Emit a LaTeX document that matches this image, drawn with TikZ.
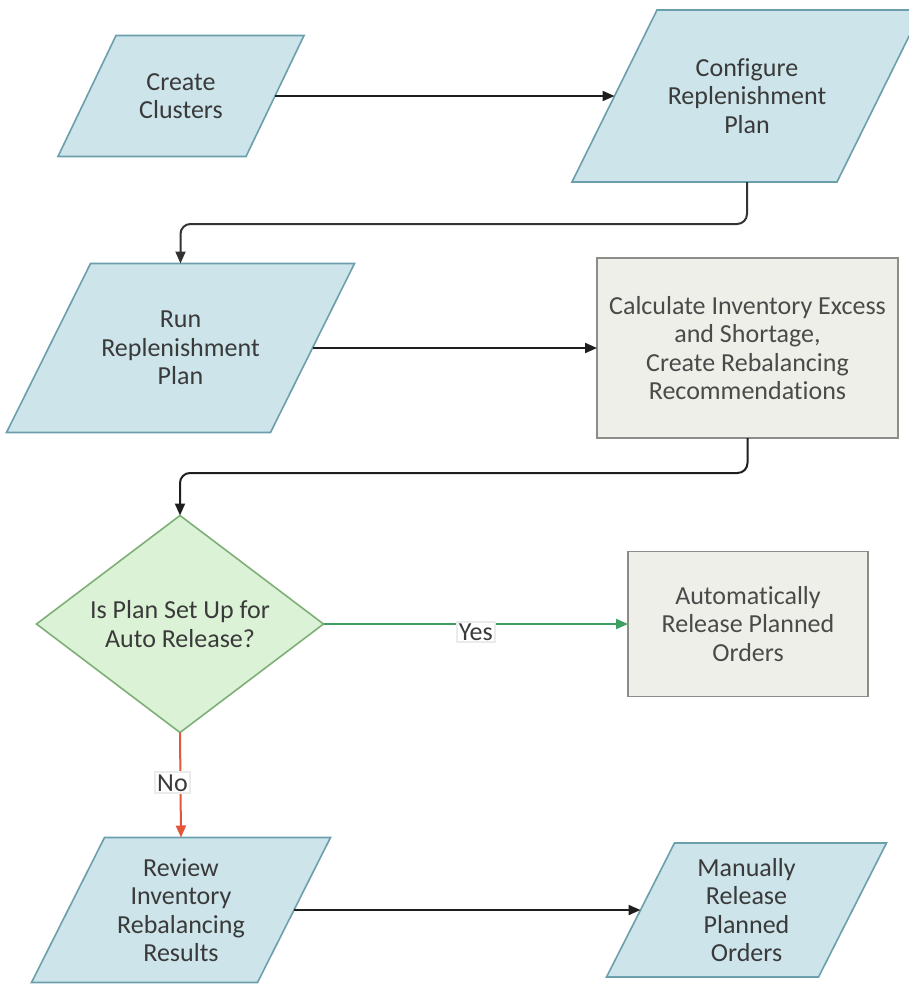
\documentclass[tikz,border=0pt]{standalone}
\usepackage{fontspec}
\setmainfont{Carlito}[Ligatures={NoCommon}]
\usetikzlibrary{arrows.meta,backgrounds,calc}
\definecolor{pfill}{HTML}{CCE4EA}
\definecolor{pdraw}{HTML}{6B9FAB}
\definecolor{rfill}{HTML}{EFEFE9}
\definecolor{rdraw}{HTML}{8C8C88}
\definecolor{dfill}{HTML}{DCF2D6}
\definecolor{ddraw}{HTML}{7EAF77}
\definecolor{agreen}{HTML}{3F9E62}
\definecolor{ared}{HTML}{E4553A}
\definecolor{ablack}{HTML}{1E1E1E}
\definecolor{textc}{HTML}{3A3A3A}
\definecolor{textb}{HTML}{4A4A4A}
\newcommand{\parashape}[2]{%
  \draw[parastyle] ([xshift=#2/2]#1.north west) -- ([xshift=#2/2]#1.north east)
    -- ([xshift=-#2/2]#1.south east) -- ([xshift=-#2/2]#1.south west) -- cycle;}
\begin{document}
\begin{tikzpicture}[x=1pt,y=-1pt,
  txt/.style={shape=rectangle, inner sep=0pt, outer sep=0pt, align=center,
    text=textc, font=\fontsize{26}{28.5}\selectfont},
  parastyle/.style={fill=pfill, draw=pdraw, line width=1.6pt, line join=miter},
  boxstyle/.style={txt, fill=rfill, draw=rdraw, line width=1.6pt, text=textb},
  diastyle/.style={fill=dfill, draw=ddraw, line width=1.6pt},
  arr/.style={-{Triangle[length=12pt,width=10pt]}, line width=2pt, draw=ablack},
  lbl/.style={fill=white, draw=black!8, inner sep=2pt, text=textc,
    font=\fontsize{26}{28.5}\selectfont}]
\useasboundingbox (0,0) rectangle (909,985);
% nodes
\node[txt, minimum width=188pt, minimum height=121pt] (cc) at (181,96) {Create\\Clusters};
\node[txt, minimum width=265pt, minimum height=172pt] (cfg) at (747,96) {Configure\\Replenishment\\Plan};
\node[txt, minimum width=264pt, minimum height=169pt] (run) at (180.5,348) {Run\\Replenishment\\Plan};
\node[boxstyle, minimum width=301pt, minimum height=180pt] (calc) at (747.5,348) {Calculate Inventory Excess\\and Shortage,\\Create Rebalancing\\Recommendations};
\node[txt, minimum width=287pt, minimum height=217pt] (dec) at (180,624) {Is Plan Set Up for\\Auto Release?};
\node[boxstyle, minimum width=240pt, minimum height=145pt] (auto) at (748,624) {Automatically\\Release Planned\\Orders};
\node[txt, minimum width=226pt, minimum height=145pt] (rev) at (181,910) {Review\\Inventory\\Rebalancing\\Results};
\node[txt, minimum width=212pt, minimum height=134pt] (man) at (746.5,910) {Manually\\Release\\Planned\\Orders};
\coordinate (k1) at (180.5,224);
\coordinate (k2) at (180,473);
% shapes behind
\begin{pgfonlayer}{background}
\fill[white] (0,0) rectangle (909,985);
\parashape{cc}{58pt}
\parashape{cfg}{85pt}
\parashape{run}{84pt}
\parashape{rev}{73pt}
\parashape{man}{68pt}
\draw[diastyle] (dec.north) -- (dec.east) -- (dec.south) -- (dec.west) -- cycle;
\end{pgfonlayer}
% connectors
\draw[arr] (cc.east) -- (cfg.west);
\draw[arr, rounded corners=10pt, draw=black!80] (cfg.south) |- (k1) -- (run.north);
\draw[arr] (run.east) -- (calc.west);
\draw[arr, rounded corners=10pt] (calc.south) |- (k2) -- (dec.north);
\draw[arr, draw=agreen] (dec.east) -- node[lbl, pos=0.5, yshift=-8pt] (yes) {Yes} (auto.west);
\draw[arr, draw=ared] (dec.south) -- node[lbl, pos=0.48, xshift=-8pt] (no) {No} (rev.north);
\draw[arr] (rev.east) -- (man.west);
\end{tikzpicture}
\end{document}
